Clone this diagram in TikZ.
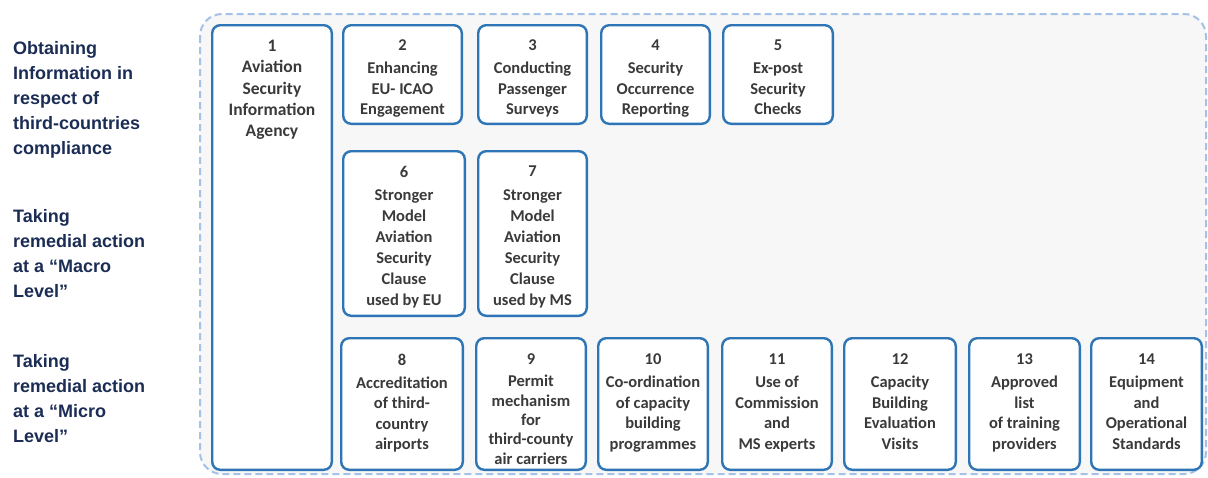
\documentclass[tikz,border=0pt]{standalone}
\usepackage{fontspec}
\newfontfamily\carl{Carlito}
\newfontfamily\labfont{Liberation Sans}
\definecolor{boxblue}{HTML}{2E75B6}
\definecolor{dashblue}{HTML}{A4C2E8}
\definecolor{bgray}{HTML}{F7F7F7}
\definecolor{txt}{HTML}{3A3A3A}
\definecolor{navy}{HTML}{1B2C55}
\newcommand\mybox[8][20.5]{%
  \node[panel,minimum width={#4-#2-2.4},minimum height={#5-#3-2.4}] (b#2) at ({(#2+#4)/2},{(#3+#5)/2}) {};
  \node[btext,font=\carl\bfseries\fontsize{16.5}{#1}\selectfont] (t#2) at ({(#2+#4)/2},#6) {#7\\[2.5pt]#8};}
\begin{document}
\begin{tikzpicture}[x=1pt,y=-1pt,
  panel/.style={draw=boxblue,line width=2.4pt,rounded corners=8pt,fill=white,inner sep=0pt},
  btext/.style={anchor=north,inner sep=0pt,align=center,text=txt},
  ltext/.style={anchor=north west,inner sep=0pt,align=left,text=navy,font=\labfont\bfseries\fontsize{18}{25}\selectfont},
  outer/.style={draw=dashblue,line width=2pt,dash pattern=on 7pt off 4pt,rounded corners=22pt,fill=bgray}]
\useasboundingbox (0,0) rectangle (1208,477);
\path[outer] (200,14) rectangle (1206,474);
% labels
\node[ltext] (l1) at (13,41) {Obtaining\\Information in\\respect of\\third-countries\\compliance};
\node[ltext] (l2) at (13,209) {Taking\\remedial action\\at a “Macro\\Level”};
\node[ltext] (l3) at (13,354) {Taking\\remedial action\\at a “Micro\\Level”};
% box 1
\node[panel,minimum width={333-211-2.4},minimum height={471-24-2.4}] (b1) at (272,247.5) {};
\node[btext,font=\carl\bfseries\fontsize{17.5}{21.3}\selectfont] (t1) at (272,39.5) {1\\[0.5pt]Aviation\\Security\\Information\\Agency};
% row 1
\mybox{342}{24}{463}{125}{39.8}{2}{Enhancing\\EU- ICAO\\Engagement}
\mybox{477}{24}{588}{125}{39.8}{3}{Conducting\\Passenger\\Surveys}
\mybox{600}{24}{711}{125}{39.8}{4}{Security\\Occurrence\\Reporting}
\mybox{722}{24}{834}{125}{39.8}{5}{Ex-post\\Security\\Checks}
% row 2
\mybox[21]{342}{150}{466}{317}{165.8}{6}{Stronger\\Model\\Aviation\\Security\\Clause\\used by EU}
\mybox[21]{477}{150}{588}{317}{165.8}{7}{Stronger\\Model\\Aviation\\Security\\Clause\\used by MS}
% row 3
\mybox{340}{337}{464}{471}{353.8}{8}{Accreditation\\of third-\\country\\airports}
\mybox[19.4]{475}{337}{587}{471}{353.8}{9}{Permit\\mechanism\\for\\third-county\\air carriers}
\mybox{597}{337}{709}{471}{353.8}{10}{Co-ordination\\of capacity\\building\\programmes}
\mybox{721}{337}{833}{471}{353.8}{11}{Use of\\Commission\\and\\MS experts}
\mybox{843}{337}{957}{471}{353.8}{12}{Capacity\\Building\\Evaluation\\Visits}
\mybox{968}{337}{1081}{471}{353.8}{13}{Approved\\list\\of training\\providers}
\mybox{1090}{337}{1203}{471}{353.8}{14}{Equipment\\and\\Operational\\Standards}
\end{tikzpicture}
\end{document}
